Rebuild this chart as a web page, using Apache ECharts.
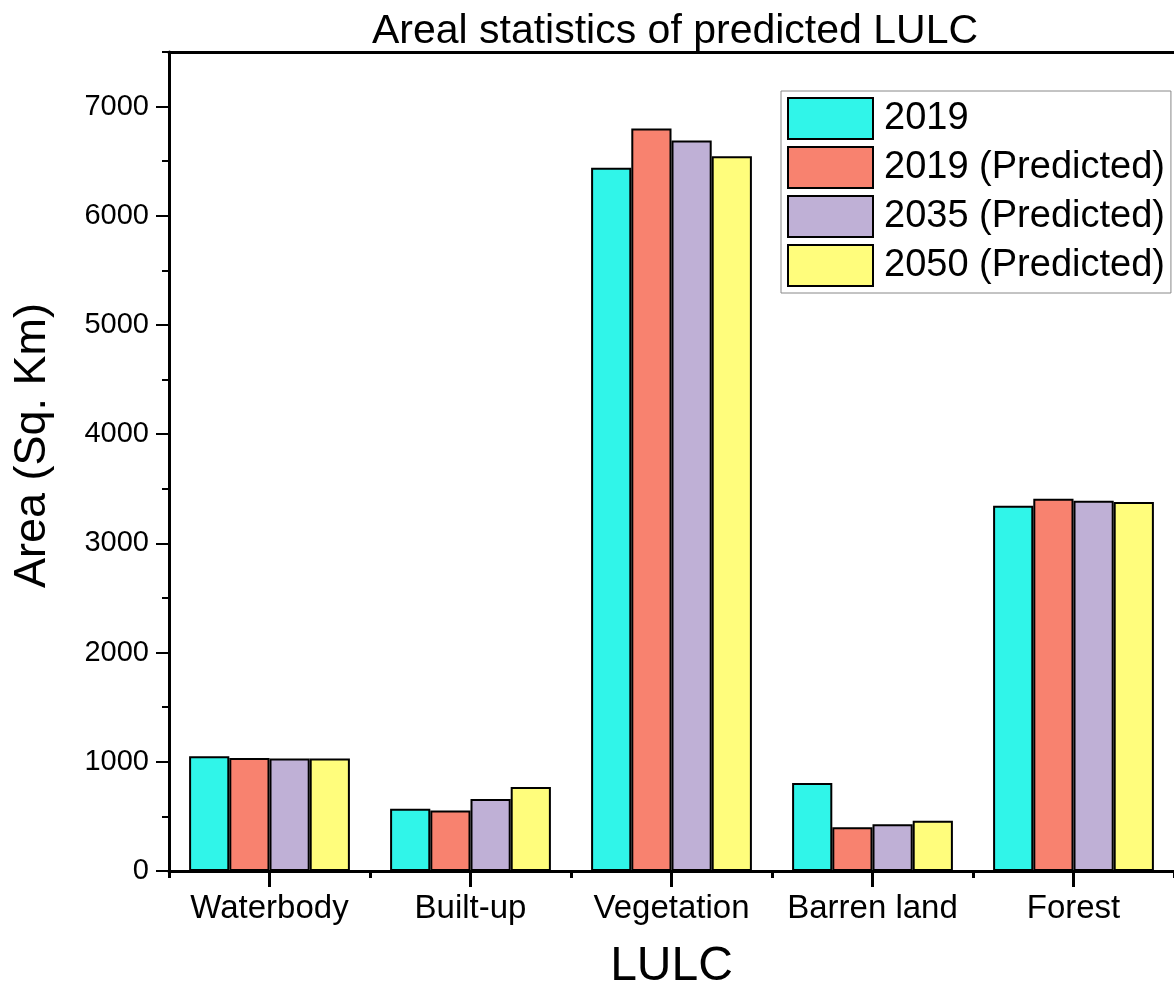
<!DOCTYPE html>
<html>
<head>
<meta charset="utf-8">
<title>Areal statistics of predicted LULC</title>
<script src="https://cdn.jsdelivr.net/npm/echarts@6/dist/echarts.min.js"></script>
<style>
  html, body { margin: 0; padding: 0; background: #ffffff; }
  #chart { width: 1174px; height: 998px; }
</style>
</head>
<body>
<div id="chart"></div>
<script>
// Land use / land cover classes and their areas (sq. km)
const categories = ['Waterbody', 'Built-up', 'Vegetation', 'Barren land', 'Forest'];
const seriesNames = ['2019', '2019 (Predicted)', '2035 (Predicted)', '2050 (Predicted)'];
const area2019 = [1050, 570, 6440, 805, 3345];
const area2019Predicted = [1035, 555, 6800, 400, 3410];
const area2035Predicted = [1030, 660, 6690, 428, 3390];
const area2050Predicted = [1030, 770, 6545, 460, 3380];
const yMajorTicks = [0, 1000, 2000, 3000, 4000, 5000, 6000, 7000];
const yMinorTicks = [500, 1500, 2500, 3500, 4500, 5500, 6500, 7500];

const seriesData = [area2019, area2019Predicted, area2035Predicted, area2050Predicted];
const colors = ['#30F5E9', '#F8826F', '#BFB0D6', '#FFFD7C'];
const FONT = "'Liberation Sans', Arial, sans-serif";

const chart = echarts.init(document.getElementById('chart'), null, { renderer: 'canvas' });

const option = {
  backgroundColor: '#ffffff',
  animation: false,
  title: {
    text: 'Areal statistics of predicted LULC',
    left: 675,
    top: 11,
    padding: 0,
    textAlign: 'center',
    textStyle: { fontFamily: FONT, fontSize: 41, fontWeight: 'normal', color: '#000' }
  },
  legend: {
    orient: 'vertical',
    left: 781,
    top: 91,
    padding: [6, 6, 6, 6],
    itemWidth: 85,
    itemHeight: 41,
    itemGap: 6,
    icon: 'rect',
    borderColor: '#888888',
    borderWidth: 1,
    backgroundColor: '#ffffff',
    textStyle: { fontFamily: FONT, fontSize: 38, color: '#000', padding: [0, 0, 0, 6] },
    data: seriesNames
  },
  grid: { left: 169, right: -6, top: 52, bottom: 127, containLabel: false },
  xAxis: [
    {
      type: 'category',
      data: categories,
      position: 'bottom',
      axisLine: { show: true, lineStyle: { color: '#000', width: 3 } },
      axisTick: { show: true, alignWithLabel: true, length: 16, lineStyle: { color: '#000', width: 3 } },
      axisLabel: { interval: 0, fontFamily: FONT, fontSize: 33, color: '#000', margin: 21 },
      splitLine: { show: false },
      name: 'LULC',
      nameLocation: 'middle',
      nameGap: 72,
      nameTextStyle: { fontFamily: FONT, fontSize: 48, color: '#000' }
    },
    {
      // short ticks on the category boundaries
      type: 'category',
      data: categories,
      position: 'bottom',
      axisLine: { show: false },
      axisTick: { show: true, interval: 0, length: 7, lineStyle: { color: '#000', width: 3 } },
      axisLabel: { show: false },
      splitLine: { show: false }
    },
    {
      // top frame line
      type: 'category',
      data: categories,
      position: 'top',
      axisLine: { show: true, lineStyle: { color: '#000', width: 3 } },
      axisTick: { show: false },
      axisLabel: { show: false },
      splitLine: { show: false }
    }
  ],
  yAxis: [
    {
      type: 'value',
      min: 0,
      max: 7500,
      interval: 500,
      position: 'left',
      axisLine: { show: true, lineStyle: { color: '#000', width: 3 } },
      axisTick: { show: true, customValues: yMajorTicks, length: 13, lineStyle: { color: '#000', width: 2 } },
      axisLabel: {
        customValues: yMajorTicks,
        formatter: (v) => String(v),
        fontFamily: FONT, fontSize: 29, color: '#000', margin: 20
      },
      splitLine: { show: false },
      name: 'Area (Sq. Km)',
      nameLocation: 'middle',
      nameRotate: 90,
      nameGap: 114,
      nameTextStyle: { fontFamily: FONT, fontSize: 45, color: '#000', padding: [0, 0, 0, 32] }
    },
    {
      // minor ticks between the labelled values
      type: 'value',
      min: 0,
      max: 7500,
      interval: 500,
      position: 'left',
      axisLine: { show: false },
      axisTick: { show: true, customValues: yMinorTicks, length: 7, lineStyle: { color: '#000', width: 2 } },
      axisLabel: { show: false },
      splitLine: { show: false }
    }
  ],
  series: seriesNames.map((name, i) => ({
    name: name,
    type: 'bar',
    xAxisIndex: 0,
    yAxisIndex: 0,
    data: seriesData[i],
    barGap: '0%',
    barCategoryGap: '20%',
    itemStyle: { color: colors[i], borderColor: '#000', borderWidth: 2 }
  }))
};

chart.setOption(option);
</script>
</body>
</html>
